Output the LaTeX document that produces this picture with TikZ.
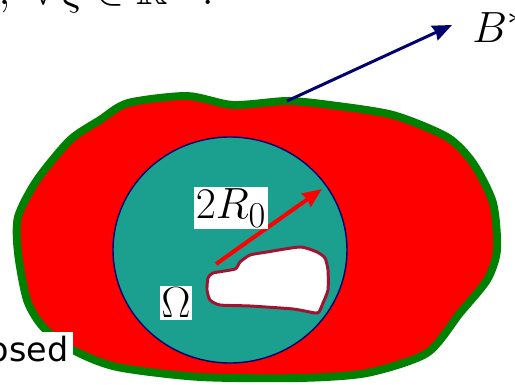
\documentclass[tikz,border=0pt]{standalone}
\usepackage{amsmath, amssymb}
\usepackage{fontspec}
\newfontfamily\osedfont{DejaVu Sans}
\usetikzlibrary{positioning, arrows.meta}

\definecolor{tealball}{RGB}{27,160,144}
\definecolor{ballrim}{RGB}{0,0,110}
\definecolor{holerim}{RGB}{160,20,50}
\definecolor{darkgreen}{RGB}{0,128,0}

\begin{document}
\begin{tikzpicture}[x=0.02cm, y=-0.02cm,
    tag/.style={fill=white, inner sep=1pt, font=\Huge},
    >={Stealth[length=11pt, width=9pt, inset=1pt]}]
  \useasboundingbox (0,0) rectangle (515,385);
  \clip (0,0) rectangle (515,385);

  % outer region
  \draw[darkgreen, line width=4.5pt, fill=red]
    plot[smooth cycle, tension=0.45] coordinates {
      (128,103) (187,96) (233,105) (287,101) (330,105) (393,115)
      (447,137) (473,163) (493,203) (497,250) (487,280) (460,313)
      (427,353) (367,373) (300,378) (200,377) (117,367) (73,350)
      (43,327) (27,300) (18,253) (18,217) (37,180) (70,140) (100,120)};

  % ball of radius 2R_0
  \draw[ballrim, line width=0.8pt, fill=tealball] (230,250) ellipse [x radius=117, y radius=113];

  % the obstacle
  \draw[holerim, line width=1.7pt, fill=white]
    plot[smooth cycle, tension=0.35] coordinates {
      (208,278) (213,273) (235,269) (240,262) (250,255) (267,252)
      (300,247) (317,252) (325,258) (328,270) (328,290) (323,303)
      (319,312) (315,313) (293,309) (250,306) (220,305) (210,300)
      (207,290)};

  \coordinate (rstart) at (216,264);
  \coordinate (rtip) at (322,189);
  \draw[->, red, line width=2.3pt] (rstart) -- (rtip);

  \node[tag] (radius) at (231,208) {$2R_0$};
  \node[tag] (omega) at (176,303) {$\Omega$};
  \node[tag, font=\osedfont\fontsize{19}{22}\selectfont, anchor=base east, inner sep=2.5pt] (osed) at (73,361.5) {osed};

  \coordinate (btop) at (287,101);
  \node[font=\Huge, anchor=base west, inner sep=0pt] (bstar) at (472,43) {$B^*$};
  \draw[->, ballrim, line width=1.7pt] (btop) -- (452,25);

  \node[font=\Huge, anchor=base east, inner sep=0pt] (cond) at (214,5) {$y,\ \forall\,\xi\in\mathbb{R}^N.$};
\end{tikzpicture}
\end{document}
